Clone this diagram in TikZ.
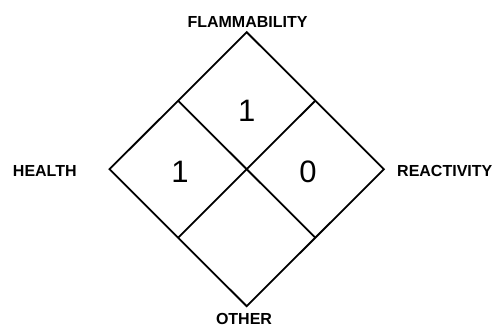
\documentclass[tikz,border=0pt]{standalone}
\usepackage{fontspec}
\setmainfont{Liberation Sans}
\usetikzlibrary{calc}
\begin{document}
\begin{tikzpicture}[x=1pt,y=-1pt,
  edge/.style={line width=1.8pt,line join=miter},
  catlabel/.style={font=\fontsize{16}{18}\selectfont\bfseries,inner sep=0pt},
  rating/.style={font=\fontsize{31}{34}\selectfont,inner sep=0pt}]
\useasboundingbox (0,0) rectangle (499,326);
\coordinate (T) at (246.7,32.2);
\coordinate (B) at (246.7,306.2);
\coordinate (L) at (109.5,169.2);
\coordinate (R) at (383.9,169.2);
\coordinate (TL) at ($(T)!0.5!(L)$);
\coordinate (TR) at ($(T)!0.5!(R)$);
\coordinate (BL) at ($(B)!0.5!(L)$);
\coordinate (BR) at ($(B)!0.5!(R)$);
\draw[edge] (T) -- (R) -- (B) -- (L) -- cycle;
\draw[edge] (TL) -- (BR);
\draw[edge] (TR) -- (BL);
\node[catlabel] (flam) at (247.5,21.7) {FLAMMABILITY};
\node[catlabel] (health) at (44.8,171) {HEALTH};
\node[catlabel,anchor=west] (react) at (397,171) {REACTIVITY};
\node[catlabel] (other) at (244,318.5) {OTHER};
\node[rating] (rf) at (246.7,110.5) {1};
\node[rating] (rh) at (180,171.5) {1};
\node[rating] (rr) at (308,171.5) {0};
\end{tikzpicture}
\end{document}
